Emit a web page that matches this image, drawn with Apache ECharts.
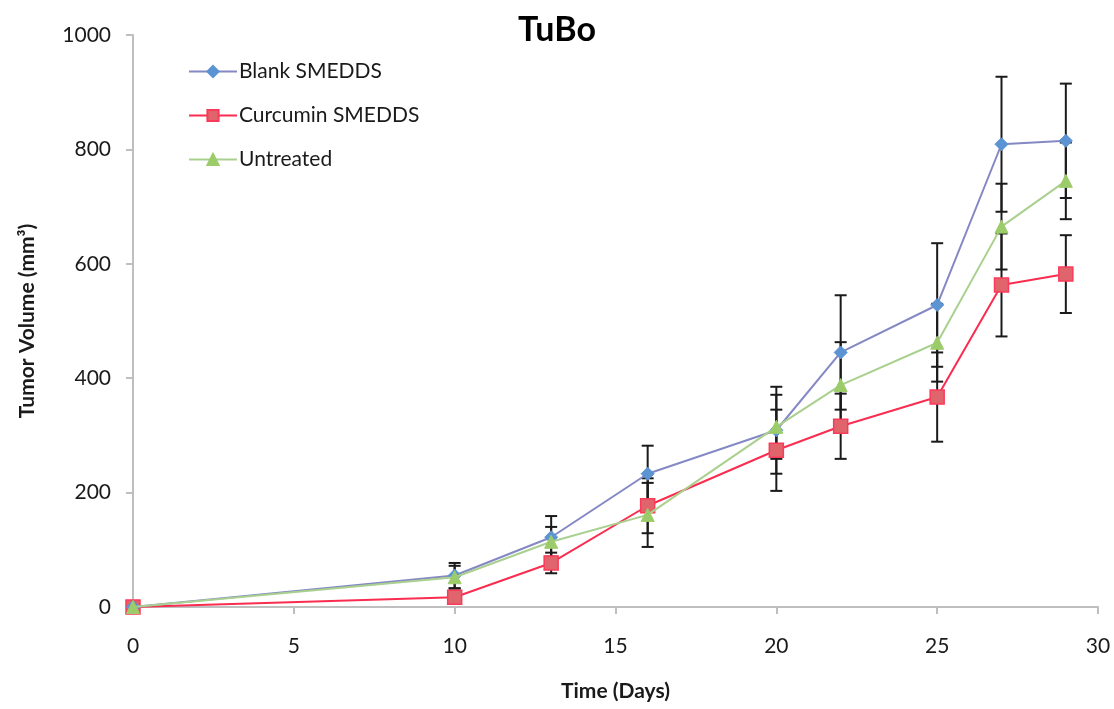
<!DOCTYPE html>
<html>
<head>
<meta charset="utf-8">
<script src="https://cdn.jsdelivr.net/npm/echarts@6/dist/echarts.min.js"></script>
<style>
html, body { margin: 0; padding: 0; background: #fff; }
#chart { width: 1114px; height: 709px; }
</style>
</head>
<body>
<div id="chart"></div>
<script>
// Days after inoculation
const days = [0, 10, 13, 16, 20, 22, 25, 27, 29];

// Mean tumour volume (mm³) and error per group
const blankSmedds = [0, 55, 122, 233, 309, 445, 528, 809, 815];
const blankErr = [0, 22, 37, 49, 76, 100, 108, 118, 100];

const curcuminSmedds = [0, 17, 77, 177, 274, 316, 367, 563, 582];
const curcuminErr = [0, 5, 18, 48, 71, 57, 78, 90, 68];

const untreated = [0, 52, 114, 161, 315, 388, 462, 665, 745];
const untreatedErr = [0, 20, 26, 56, 56, 75, 68, 75, 67];

const seriesNames = ['Blank SMEDDS', 'Curcumin SMEDDS', 'Untreated'];

const FONT = 'Lato, "Open Sans", sans-serif';

function pairs(vals) {
  return days.map((d, i) => [d, vals[i]]);
}
function errTriples(vals, errs) {
  return days.map((d, i) => [d, vals[i], errs[i]]);
}

// Vertical error bar with caps
function renderErrorBar(params, api) {
  const x = api.value(0);
  const y = api.value(1);
  const e = api.value(2);
  if (!e) return null;
  const top = api.coord([x, y + e]);
  const bot = api.coord([x, y - e]);
  const cap = 6;
  const style = { stroke: '#1a1a1a', lineWidth: 2 };
  return {
    type: 'group',
    children: [
      { type: 'line', shape: { x1: top[0], y1: top[1], x2: bot[0], y2: bot[1] }, style },
      { type: 'line', shape: { x1: top[0] - cap, y1: top[1], x2: top[0] + cap, y2: top[1] }, style },
      { type: 'line', shape: { x1: bot[0] - cap, y1: bot[1], x2: bot[0] + cap, y2: bot[1] }, style }
    ]
  };
}

const chart = echarts.init(document.getElementById('chart'), null, { renderer: 'canvas' });

const option = {
  backgroundColor: '#ffffff',
  animation: false,
  title: {
    text: 'TuBo',
    left: 'center',
    top: 8,
    textStyle: { fontFamily: FONT, fontWeight: 'bold', fontSize: 34, color: '#000' }
  },
  legend: {
    orient: 'vertical',
    left: 183,
    top: 56,
    itemWidth: 48,
    itemHeight: 14,
    itemGap: 23,
    data: seriesNames,
    textStyle: { fontFamily: FONT, fontSize: 21, color: '#1a1a1a', padding: [0, 0, 0, -3] }
  },
  grid: { left: 133, right: 16, top: 35, bottom: 102, containLabel: false },
  xAxis: {
    type: 'value',
    min: 0,
    max: 30,
    interval: 5,
    name: 'Time (Days)',
    nameLocation: 'middle',
    nameGap: 74,
    nameTextStyle: { fontFamily: FONT, fontWeight: 'bold', fontSize: 21, color: '#1a1a1a' },
    axisLine: { lineStyle: { color: '#bfbfbf', width: 2 } },
    axisTick: { show: true, inside: false, length: 7, lineStyle: { color: '#bfbfbf', width: 2 } },
    axisLabel: { fontFamily: FONT, fontSize: 21, color: '#1a1a1a', margin: 29 },
    splitLine: { show: false }
  },
  yAxis: {
    type: 'value',
    min: 0,
    max: 1000,
    interval: 200,
    name: 'Tumor Volume (mm³)',
    nameLocation: 'middle',
    nameGap: 95,
    nameTextStyle: { fontFamily: FONT, fontWeight: 'bold', fontSize: 21, color: '#1a1a1a' },
    axisLine: { show: true, lineStyle: { color: '#bfbfbf', width: 2 } },
    axisTick: { show: true, inside: false, length: 7, lineStyle: { color: '#bfbfbf', width: 2 } },
    axisLabel: { fontFamily: FONT, fontSize: 21, color: '#1a1a1a', margin: 22, formatter: v => String(v) },
    splitLine: { show: false }
  },
  series: [
    {
      type: 'custom',
      name: 'errBlank',
      renderItem: renderErrorBar,
      data: errTriples(blankSmedds, blankErr),
      z: 1,
      silent: true
    },
    {
      type: 'custom',
      name: 'errCurcumin',
      renderItem: renderErrorBar,
      data: errTriples(curcuminSmedds, curcuminErr),
      z: 1,
      silent: true
    },
    {
      type: 'custom',
      name: 'errUntreated',
      renderItem: renderErrorBar,
      data: errTriples(untreated, untreatedErr),
      z: 1,
      silent: true
    },
    {
      name: 'Blank SMEDDS',
      type: 'line',
      data: pairs(blankSmedds),
      symbol: 'diamond',
      symbolSize: 13,
      showAllSymbol: true,
      lineStyle: { color: '#8488c4', width: 2 },
      itemStyle: { color: '#5b93d3', borderColor: '#5b93d3', borderWidth: 1 },
      z: 3
    },
    {
      name: 'Curcumin SMEDDS',
      type: 'line',
      data: pairs(curcuminSmedds),
      symbol: 'rect',
      symbolSize: 14,
      showAllSymbol: true,
      lineStyle: { color: '#fa2c4f', width: 2 },
      itemStyle: { color: '#e0646c', borderColor: '#fa3a5a', borderWidth: 1.5 },
      z: 2
    },
    {
      name: 'Untreated',
      type: 'line',
      data: pairs(untreated),
      symbol: 'triangle',
      symbolSize: 13,
      showAllSymbol: true,
      lineStyle: { color: '#a9d08e', width: 2 },
      itemStyle: { color: '#9ccc6a', borderColor: '#9ccc6a', borderWidth: 1 },
      z: 4
    }
  ]
};

chart.setOption(option);
</script>
</body>
</html>
